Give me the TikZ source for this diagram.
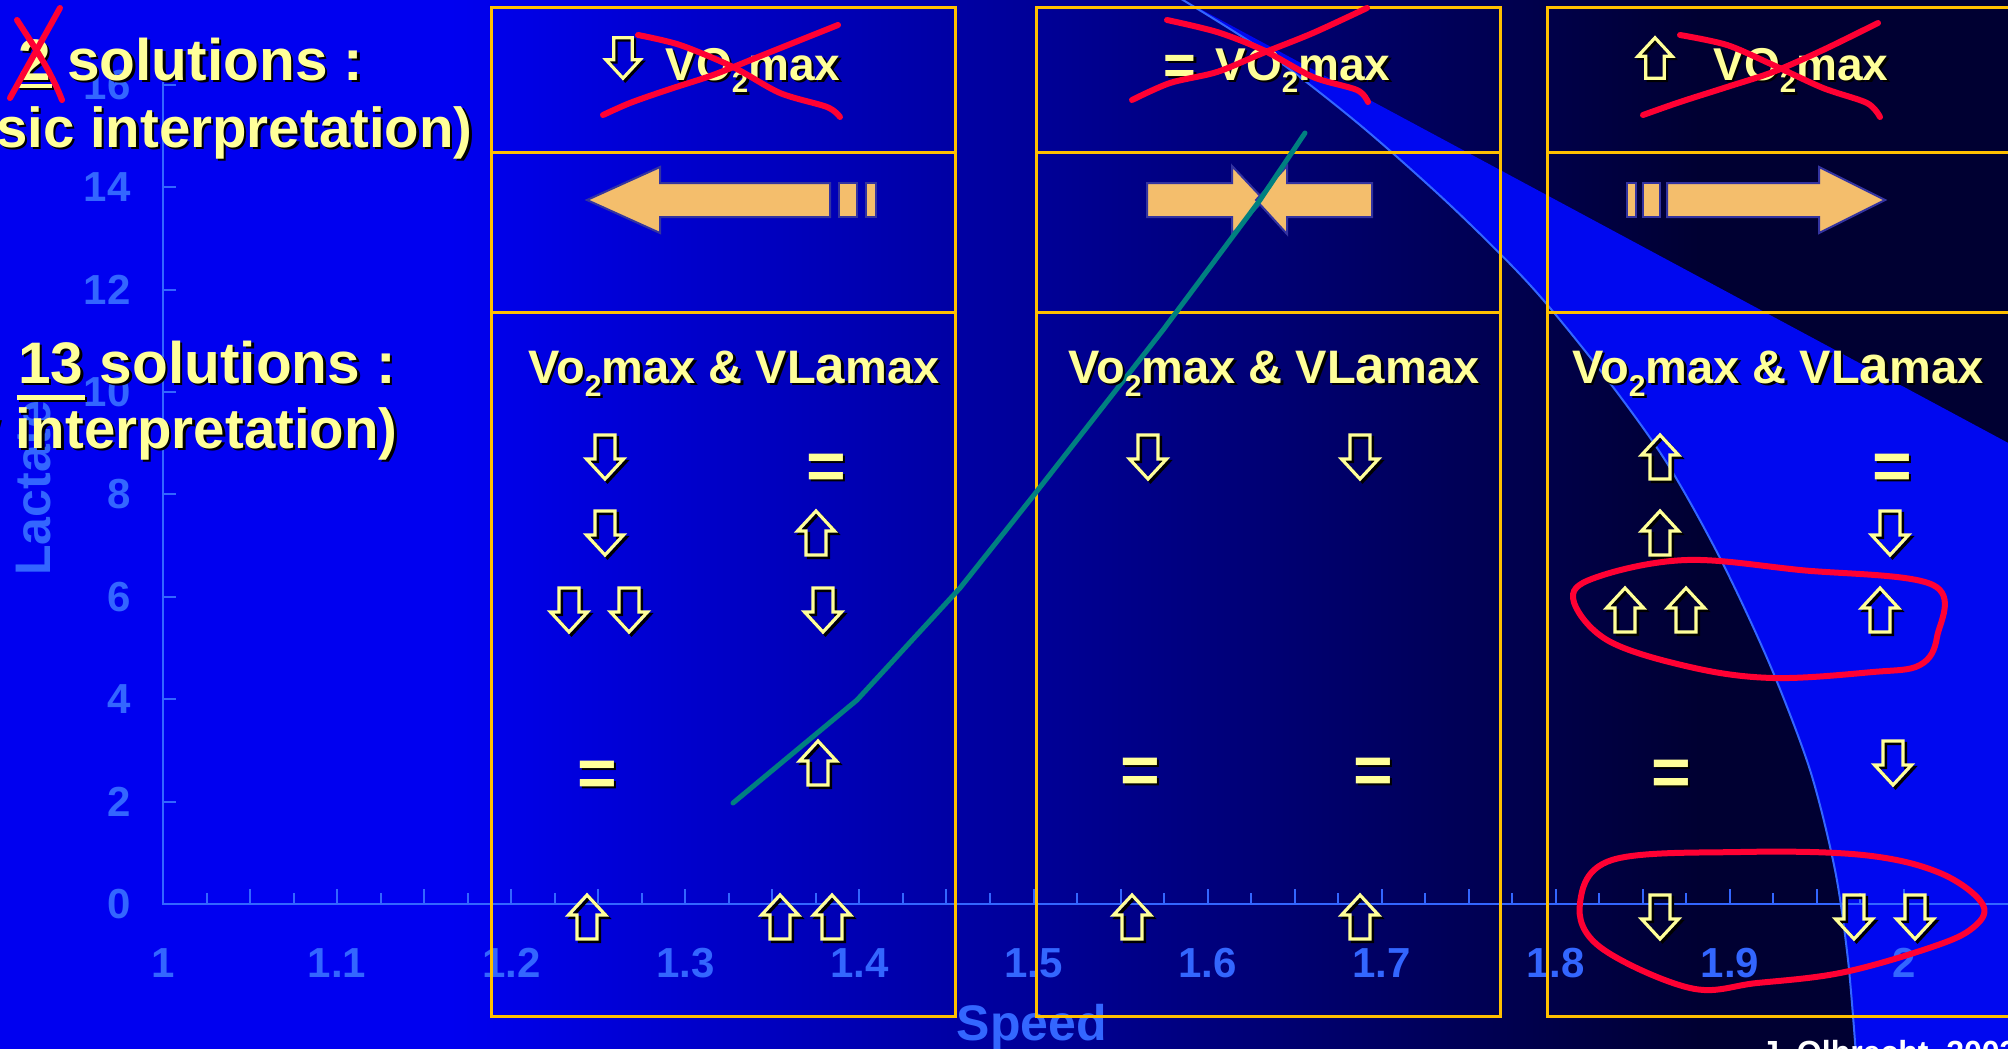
\documentclass[tikz,border=0pt]{standalone}
\usepackage{fontspec}
\usepackage{graphicx}
\setmainfont{Liberation Sans}
\definecolor{bgA}{RGB}{0,0,240}
\definecolor{bgB}{RGB}{0,0,50}
\definecolor{wedgeblue}{RGB}{0,8,240}
\definecolor{axisblue}{RGB}{51,102,255}
\definecolor{boxyellow}{RGB}{255,192,0}
\definecolor{txtyellow}{RGB}{255,255,153}
\definecolor{orangefill}{RGB}{244,190,108}
\definecolor{arrowedge}{RGB}{51,51,160}
\definecolor{redmark}{RGB}{255,0,51}
\definecolor{tealline}{RGB}{0,128,128}
\newcommand\shd[1]{\rlap{\hspace{1.2pt}\raisebox{-1.2pt}{\color{black}#1}}#1}
\newcommand\subtwo{\raisebox{-0.28em}{\scalebox{0.64}{2}}}
\newcommand\hdr{Vo\subtwo max \& VL{\fontsize{26.5}{28}\selectfont a}max}
\newcommand\topvo{VO\subtwo max}
\tikzset{
  boxline/.style={draw=boxyellow,line width=1.5pt},
  blockarr/.style={fill=orangefill,draw=arrowedge,line width=1pt,line join=miter},
  redstroke/.style={draw=redmark,line width=3pt,line cap=round,line join=round},
  ytxt/.style={inner sep=0pt,text=txtyellow,font=\bfseries\fontsize{23.5}{28}\selectfont},
  toptxt/.style={inner sep=0pt,text=txtyellow,font=\bfseries\fontsize{23}{28}\selectfont},
  bigtxt/.style={inner sep=0pt,text=txtyellow,font=\bfseries\fontsize{29.3}{32}\selectfont},
  paretxt/.style={inner sep=0pt,text=txtyellow,font=\bfseries\fontsize{28.2}{32}\selectfont},
  eqtxt/.style={inner sep=0pt,text=txtyellow,font=\bfseries\fontsize{34}{36}\selectfont,anchor=base},
  eqsmall/.style={inner sep=0pt,text=txtyellow,font=\bfseries\fontsize{28}{32}\selectfont,anchor=base},
  axlab/.style={inner sep=0pt,text=axisblue,font=\bfseries\fontsize{21}{24}\selectfont},
  axtitle/.style={inner sep=0pt,text=axisblue,font=\bfseries\fontsize{25}{28}\selectfont},
  uparr/.pic={
    \draw[black,line width=1.6pt,shift={(2.5,2.5)}] (0,-22) -- (18.5,-2) -- (10,-2) -- (10,22) -- (-10,22) -- (-10,-2) -- (-18.5,-2) -- cycle;
    \draw[txtyellow,line width=1.6pt] (0,-22) -- (18.5,-2) -- (10,-2) -- (10,22) -- (-10,22) -- (-10,-2) -- (-18.5,-2) -- cycle;
  },
  dnarr/.pic={
    \draw[black,line width=1.6pt,shift={(2.5,2.5)}] (0,22) -- (18.5,2) -- (10,2) -- (10,-22) -- (-10,-22) -- (-10,2) -- (-18.5,2) -- cycle;
    \draw[txtyellow,line width=1.6pt] (0,22) -- (18.5,2) -- (10,2) -- (10,-22) -- (-10,-22) -- (-10,2) -- (-18.5,2) -- cycle;
  }
}
\begin{document}
\begin{tikzpicture}[x=0.5pt,y=-0.5pt]
\useasboundingbox (0,0) rectangle (2008,1049);
\clip (0,0) rectangle (2008,1049);
% background
\fill[bgA] (-2,-2) rectangle (452,1052);
\shade[left color=bgA,right color=bgB] (450,-2) rectangle (1700,1052);
\fill[bgB] (1698,-2) rectangle (2012,1052);
% bright wedge of the chart
\fill[wedgeblue] (1178,-3) -- (2012,445) -- (2012,1055) -- (1856,1055) -- plot[smooth] coordinates {(1856,1055) (1848,960) (1835,870) (1810,770) (1770,665) (1720,558) (1665,460) (1600,370) (1530,285) (1450,205) (1360,125) (1270,55) (1178,-3)} -- cycle;
\draw[axisblue,line width=1pt] plot[smooth] coordinates {(1178,-3) (1270,55) (1360,125) (1450,205) (1530,285) (1600,370) (1665,460) (1720,558) (1770,665) (1810,770) (1835,870) (1848,960) (1856,1055)};
% axes
\draw[axisblue,line width=1pt] (163,82) -- (163,904) -- (2010,904);
\foreach \v in {0,2,...,16}{
  \draw[axisblue,line width=1pt] (163,{904-51.2*\v}) -- (176,{904-51.2*\v});
  \node[axlab,anchor=east] (ylab\v) at (131,{904-51.2*\v}) {\v};
}
\foreach \i in {1,...,40}{
  \pgfmathsetmacro\tl{ifthenelse(mod(\i,2)==0,15,11)}
  \draw[axisblue,line width=1pt] ({163+43.525*\i},904) -- ({163+43.525*\i},{904-\tl});
}
\foreach \k/\t in {0/1,1/1.1,2/1.2,3/1.3,4/1.4,5/1.5,6/1.6,7/1.7,8/1.8,9/1.9,10/2}{
  \node[axlab] (xlab\k) at ({163+174.1*\k},963) {\t};
}
\node[axtitle,rotate=90,anchor=base west] (ytitle) at (50,576) {Lactate};
\node[axtitle,anchor=base] (xtitle) at (1032,1040) {Speed};
% boxes
\foreach \xa/\xb in {491/955,1036/1500,1547/2011}{
  \draw[boxline] (\xa,7) rectangle (\xb,1016);
  \draw[boxline] (\xa,152) -- (\xb,152);
  \draw[boxline] (\xa,312) -- (\xb,312);
}
% block arrows
\filldraw[blockarr] (587,200) -- (660,167) -- (660,183) -- (830,183) -- (830,217) -- (660,217) -- (660,233) -- cycle;
\filldraw[blockarr] (839,183) rectangle (857,217);
\filldraw[blockarr] (866,183) rectangle (876,217);
\filldraw[blockarr] (1147,183) -- (1232,183) -- (1232,166) -- (1264,200) -- (1232,234) -- (1232,217) -- (1147,217) -- cycle;
\filldraw[blockarr] (1372,183) -- (1287,183) -- (1287,166) -- (1256,200) -- (1287,234) -- (1287,217) -- (1372,217) -- cycle;
\filldraw[blockarr] (1627,183) rectangle (1636,217);
\filldraw[blockarr] (1643,183) rectangle (1660,217);
\filldraw[blockarr] (1667,183) -- (1819,183) -- (1819,167) -- (1885,200) -- (1819,233) -- (1819,217) -- (1667,217) -- cycle;
% lactate curve
\draw[tealline,line width=2.5pt,line cap=round,line join=round] (733,803) -- (857,700) -- (960,588) -- (1030,500) -- (1163,330) -- (1260,200) -- (1305,133);
% left texts
\node[bigtxt,anchor=base west] (t1) at (18,80) {\shd{2 solutions :}};
\node[paretxt,anchor=base east] (t2) at (473,147) {\shd{(classic interpretation)}};
\node[bigtxt,anchor=base west] (t3) at (18,383) {\shd{13 solutions :}};
\node[paretxt,anchor=base east] (t4) at (398,448) {\shd{(new interpretation)}};
\fill[black] (20,86) rectangle (54,90);
\fill[txtyellow] (18,84) rectangle (52,88);
\fill[black] (19,397) rectangle (87,402);
\fill[txtyellow] (17,395) rectangle (85,400);
% top row texts
\node[toptxt,anchor=base west] (v1) at (665,80) {\shd{\topvo}};
\node[eqsmall] (e0) at (1180,84) {\shd{=}};
\node[toptxt,anchor=base west] (v2) at (1215,80) {\shd{\topvo}};
\node[toptxt,anchor=base west] (v3) at (1713,80) {\shd{\topvo}};
\pic[scale=0.92] at (623,58) {dnarr};
\pic[scale=0.92] at (1655,58) {uparr};
% headers
\node[ytxt,anchor=base west] (h1) at (528,383) {\shd{\hdr}};
\node[ytxt,anchor=base west] (h2) at (1068,383) {\shd{\hdr}};
\node[ytxt,anchor=base west] (h3) at (1572,383) {\shd{\hdr}};
% equal signs
\node[eqtxt] (e1) at (826,489) {\shd{=}};
\node[eqtxt] (e2) at (597,796) {\shd{=}};
\node[eqtxt] (e3) at (1140,793) {\shd{=}};
\node[eqtxt] (e4) at (1373,793) {\shd{=}};
\node[eqtxt] (e5) at (1892,489) {\shd{=}};
\node[eqtxt] (e6) at (1671,795) {\shd{=}};
% arrows box 1
\pic at (605,457) {dnarr};
\pic at (605,533) {dnarr};
\pic at (816,533) {uparr};
\pic at (569,610) {dnarr};
\pic at (629,610) {dnarr};
\pic at (823,610) {dnarr};
\pic at (818,763) {uparr};
\pic at (587,917) {uparr};
\pic at (780,917) {uparr};
\pic at (832,917) {uparr};
% arrows box 2
\pic at (1148,457) {dnarr};
\pic at (1360,457) {dnarr};
\pic at (1132,917) {uparr};
\pic at (1360,917) {uparr};
% arrows box 3
\pic at (1660,457) {uparr};
\pic at (1660,533) {uparr};
\pic at (1890,533) {dnarr};
\pic at (1625,610) {uparr};
\pic at (1686,610) {uparr};
\pic at (1880,610) {uparr};
\pic at (1893,763) {dnarr};
\pic at (1660,917) {dnarr};
\pic at (1854,917) {dnarr};
\pic at (1915,917) {dnarr};
% red crosses
\draw[redstroke] plot[smooth] coordinates {(17,20) (35,48) (48,70) (57,88) (62,100)};
\draw[redstroke] (60,8) -- (10,98);
\draw[redstroke] plot[smooth] coordinates {(638,35) (680,45) (733,67) (780,93) (827,107) (840,117)};
\draw[redstroke] plot[smooth] coordinates {(603,115) (630,103) (667,90) (713,75) (763,55) (838,25)};
\draw[redstroke] plot[smooth] coordinates {(1167,20) (1217,32) (1263,50) (1313,77) (1357,90) (1368,102)};
\draw[redstroke] plot[smooth] coordinates {(1132,100) (1170,83) (1217,72) (1263,53) (1313,33) (1367,8)};
\draw[redstroke] plot[smooth] coordinates {(1680,35) (1727,45) (1773,65) (1823,88) (1867,103) (1880,117)};
\draw[redstroke] plot[smooth] coordinates {(1643,115) (1680,102) (1727,87) (1773,72) (1823,50) (1878,23)};
% red loops
\draw[redstroke] plot[smooth cycle,tension=0.6] coordinates {(1573,598) (1600,576) (1687,560) (1800,570) (1933,585) (1937,637) (1920,665) (1873,672) (1773,678) (1690,667) (1607,640)};
\draw[redstroke] plot[smooth cycle,tension=0.6] coordinates {(1612,860) (1740,852) (1863,855) (1940,873) (1983,905) (1970,930) (1923,950) (1840,973) (1757,983) (1690,988) (1600,947) (1580,903)};
% credit
\node[inner sep=0pt,anchor=base west,text=white,font=\bfseries\fontsize{16}{18}\selectfont] (credit) at (1761,1063) {J. Olbrecht, 2003};
\end{tikzpicture}
\end{document}
